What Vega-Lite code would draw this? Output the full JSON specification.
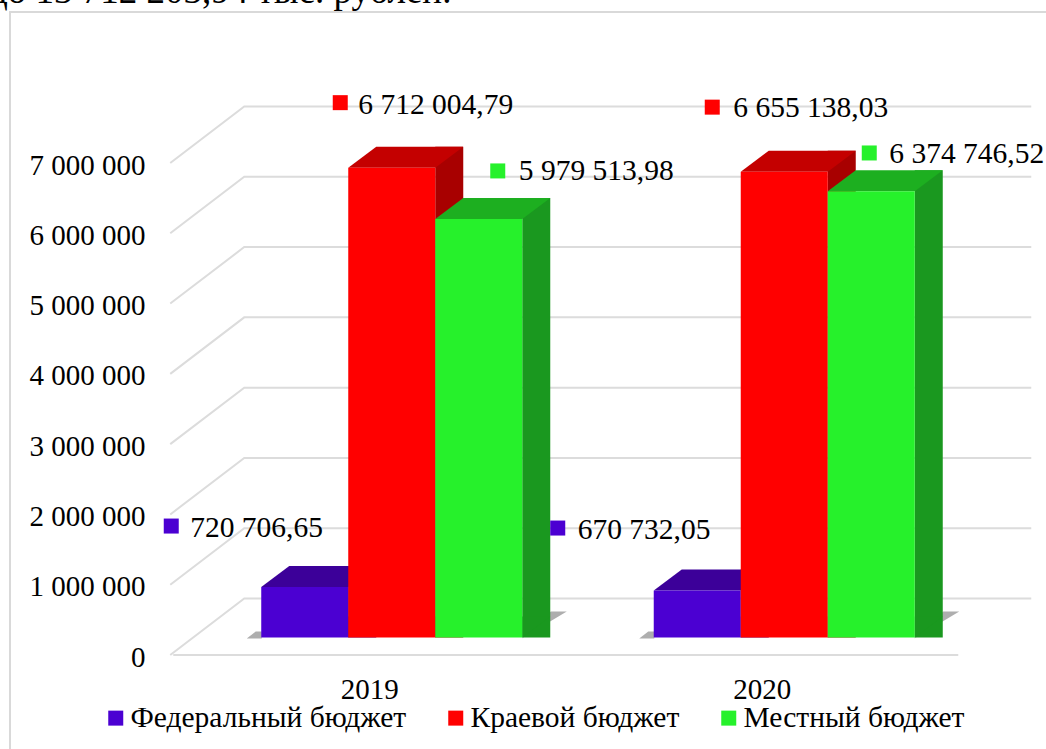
{"$schema":"https://vega.github.io/schema/vega-lite/v6.json","width":1100,"height":760,"autosize":{"type":"none"},"padding":{"left":10,"top":12,"right":0,"bottom":0},"background":"white","view":{"stroke":"#d9d9d9","strokeWidth":2,"fill":"white"},"title":{"text":"до 13 712 203,94 тыс. рублей.","anchor":"start","frame":"group","orient":"top","offset":0,"dx":-21,"dy":28,"baseline":"alphabetic","font":"Liberation Serif","fontSize":37,"fontWeight":"normal","color":"#000"},"datasets":{"ticks":[{"v":0},{"v":1000000},{"v":2000000},{"v":3000000},{"v":4000000},{"v":5000000},{"v":6000000},{"v":7000000}],"bars":[{"year":"2019","series":"Федеральный бюджет","value":720706.65,"label":"720 706,65"},{"year":"2019","series":"Краевой бюджет","value":6712004.79,"label":"6 712 004,79"},{"year":"2019","series":"Местный бюджет","value":5979513.98,"label":"5 979 513,98"},{"year":"2020","series":"Федеральный бюджет","value":670732.05,"label":"670 732,05"},{"year":"2020","series":"Краевой бюджет","value":6655138.03,"label":"6 655 138,03"},{"year":"2020","series":"Местный бюджет","value":6374746.52,"label":"6 374 746,52"}]},"resolve":{"scale":{"x":"independent","y":"independent","color":"independent","xOffset":"independent"},"axis":{"x":"independent","y":"independent"}},"layer":[
{"data":{"name":"ticks"},"mark":{"type":"point","shape":"M-199,0 L-125,-56.5 L662,-56.5","size":4,"filled":false,"fill":"transparent","stroke":"#dcdcdc","strokeWidth":2,"opacity":1},"encoding":{"x":{"datum":"2019","type":"nominal","scale":{"domain":["2019","2020"],"range":[163,948],"paddingInner":0.335,"paddingOuter":0.1675},"axis":{"title":null,"domain":false,"ticks":false,"grid":false,"labelAngle":0,"labelPadding":0,"offset":-97,"labelFont":"Liberation Serif","labelFontSize":29,"labelColor":"#000","labelBaseline":"top"}},"y":{"field":"v","type":"quantitative","scale":{"domain":[0,7000000],"range":[643,151]},"axis":{"title":null,"domain":false,"ticks":false,"grid":false,"values":[0,1000000,2000000,3000000,4000000,5000000,6000000,7000000],"labelExpr":"replace(replace(format(datum.value,','),',',' '),',',' ')","labelPadding":0,"labelOffset":2,"offset":-135,"labelFont":"Liberation Serif","labelFontSize":29,"labelColor":"#000","labelOverlap":false,"labelBound":false,"labelFlush":false}}}},
{"data":{"name":"ticks"},"transform":[{"filter":"datum.v === 0"}],"mark":{"type":"point","shape":"M-196,0 L589,0","size":4,"filled":false,"fill":"transparent","stroke":"#dcdcdc","strokeWidth":2,"opacity":1},"encoding":{"x":{"datum":"2019","type":"nominal","scale":{"domain":["2019","2020"],"range":[163,948],"paddingInner":0.335,"paddingOuter":0.1675},"axis":null},"y":{"field":"v","type":"quantitative","scale":{"domain":[0,7000000],"range":[643,151]},"axis":null}}},
{"data":{"name":"bars"},"transform":[{"filter":"datum.series === 'Федеральный бюджет'"}],"mark":{"type":"point","shape":"M-145,1 L-136,-6 L-130,-6 L-130,1 Z M130,1 L159,-26 L175,-26 Z","size":4,"filled":true,"fill":"#9a9a9a","strokeWidth":0,"opacity":0.8},"encoding":{"x":{"field":"year","type":"nominal","scale":{"domain":["2019","2020"],"range":[185.5,970.5],"paddingInner":0.335,"paddingOuter":0.1675},"axis":null},"y":{"datum":0,"type":"quantitative","scale":{"domain":[0,7000000],"range":[625.5,135.5]},"axis":null}}},
{"data":{"name":"bars"},"mark":{"type":"bar","width":28,"yOffset":-21,"y2Offset":-21},"encoding":{"x":{"field":"year","type":"nominal","scale":{"domain":["2019","2020"],"range":[243,1028],"paddingInner":0.335,"paddingOuter":0.1675},"axis":null},"xOffset":{"field":"series","scale":{"domain":["Федеральный бюджет","Краевой бюджет","Местный бюджет"]}},"y":{"field":"value","type":"quantitative","stack":false,"scale":{"domain":[0,7000000],"range":[625.5,135.5]},"axis":null},"color":{"field":"series","scale":{"domain":["Федеральный бюджет","Краевой бюджет","Местный бюджет"],"range":["#3a0a8c","#a80000","#1a981f"]},"legend":null}}},
{"data":{"name":"bars"},"mark":{"type":"point","shape":"M43.5,0 L71.5,-21 L43.5,-21 Z","size":4,"filled":true,"strokeWidth":0,"opacity":1},"encoding":{"x":{"field":"year","type":"nominal","scale":{"domain":["2019","2020"],"range":[185.5,970.5],"paddingInner":0.335,"paddingOuter":0.1675},"axis":null},"xOffset":{"field":"series","scale":{"domain":["Федеральный бюджет","Краевой бюджет","Местный бюджет"]}},"y":{"datum":0,"type":"quantitative","scale":{"domain":[0,7000000],"range":[625.5,135.5]},"axis":null},"color":{"field":"series","scale":{"domain":["Федеральный бюджет","Краевой бюджет","Местный бюджет"],"range":["#3a0a8c","#a80000","#1a981f"]},"legend":null}}},
{"data":{"name":"bars"},"mark":{"type":"point","shape":"M-43.5,0 L-15.5,-21 L71.5,-21 L43.5,0 Z","size":4,"filled":true,"strokeWidth":0,"opacity":1},"encoding":{"x":{"field":"year","type":"nominal","scale":{"domain":["2019","2020"],"range":[185.5,970.5],"paddingInner":0.335,"paddingOuter":0.1675},"axis":null},"xOffset":{"field":"series","scale":{"domain":["Федеральный бюджет","Краевой бюджет","Местный бюджет"]}},"y":{"field":"value","type":"quantitative","scale":{"domain":[0,7000000],"range":[625.5,135.5]},"axis":null},"color":{"field":"series","scale":{"domain":["Федеральный бюджет","Краевой бюджет","Местный бюджет"],"range":["#3c0099","#c40000","#1daf20"]},"legend":null}}},
{"data":{"name":"bars"},"mark":{"type":"bar"},"encoding":{"x":{"field":"year","type":"nominal","scale":{"domain":["2019","2020"],"range":[185.5,970.5],"paddingInner":0.335,"paddingOuter":0.1675},"axis":null},"xOffset":{"field":"series","scale":{"domain":["Федеральный бюджет","Краевой бюджет","Местный бюджет"]}},"y":{"field":"value","type":"quantitative","stack":false,"scale":{"domain":[0,7000000],"range":[625.5,135.5]},"axis":null},"color":{"field":"series","scale":{"domain":["Федеральный бюджет","Краевой бюджет","Местный бюджет"],"range":["#4b00d2","#ff0000","#26f12b"]},"legend":{"title":null,"orient":"none","legendX":91,"legendY":691,"direction":"horizontal","symbolType":"square","symbolSize":225,"symbolStrokeWidth":0,"columnPadding":34,"labelOffset":0,"labelFont":"Liberation Serif","labelFontSize":29.5,"labelColor":"#000","labelLimit":500}}}},
{"data":{"name":"bars"},"transform":[{"filter":"datum.year === '2019' && datum.series === 'Федеральный бюджет'"}],"layer":[{"mark":{"type":"point","shape":"M-141,-68.5 h15 v15 h-15 Z","size":4,"filled":true,"fill":"#4b00d2","strokeWidth":0,"opacity":1}},{"mark":{"type":"text","align":"left","baseline":"middle","dx":-114.5,"dy":-59,"font":"Liberation Serif","fontSize":29.5,"color":"#000"},"encoding":{"text":{"field":"label"}}}],"encoding":{"x":{"field":"year","type":"nominal","scale":{"domain":["2019","2020"],"range":[185.5,970.5],"paddingInner":0.335,"paddingOuter":0.1675},"axis":null},"xOffset":{"field":"series","scale":{"domain":["Федеральный бюджет","Краевой бюджет","Местный бюджет"]}},"y":{"field":"value","type":"quantitative","scale":{"domain":[0,7000000],"range":[625.5,135.5]},"axis":null}}},
{"data":{"name":"bars"},"transform":[{"filter":"datum.year === '2019' && datum.series === 'Краевой бюджет'"}],"layer":[{"mark":{"type":"point","shape":"M-59,-72.5 h15 v15 h-15 Z","size":4,"filled":true,"fill":"#ff0000","strokeWidth":0,"opacity":1}},{"mark":{"type":"text","align":"left","baseline":"middle","dx":-33.5,"dy":-62.7,"font":"Liberation Serif","fontSize":29.5,"color":"#000"},"encoding":{"text":{"field":"label"}}}],"encoding":{"x":{"field":"year","type":"nominal","scale":{"domain":["2019","2020"],"range":[185.5,970.5],"paddingInner":0.335,"paddingOuter":0.1675},"axis":null},"xOffset":{"field":"series","scale":{"domain":["Федеральный бюджет","Краевой бюджет","Местный бюджет"]}},"y":{"field":"value","type":"quantitative","scale":{"domain":[0,7000000],"range":[625.5,135.5]},"axis":null}}},
{"data":{"name":"bars"},"transform":[{"filter":"datum.year === '2019' && datum.series === 'Местный бюджет'"}],"layer":[{"mark":{"type":"point","shape":"M11.5,-55.5 h15 v15 h-15 Z","size":4,"filled":true,"fill":"#26f12b","strokeWidth":0,"opacity":1}},{"mark":{"type":"text","align":"left","baseline":"middle","dx":40,"dy":-48,"font":"Liberation Serif","fontSize":29.5,"color":"#000"},"encoding":{"text":{"field":"label"}}}],"encoding":{"x":{"field":"year","type":"nominal","scale":{"domain":["2019","2020"],"range":[185.5,970.5],"paddingInner":0.335,"paddingOuter":0.1675},"axis":null},"xOffset":{"field":"series","scale":{"domain":["Федеральный бюджет","Краевой бюджет","Местный бюджет"]}},"y":{"field":"value","type":"quantitative","scale":{"domain":[0,7000000],"range":[625.5,135.5]},"axis":null}}},
{"data":{"name":"bars"},"transform":[{"filter":"datum.year === '2020' && datum.series === 'Федеральный бюджет'"}],"layer":[{"mark":{"type":"point","shape":"M-147,-70 h15 v15 h-15 Z","size":4,"filled":true,"fill":"#4b00d2","strokeWidth":0,"opacity":1}},{"mark":{"type":"text","align":"left","baseline":"middle","dx":-119.5,"dy":-60.5,"font":"Liberation Serif","fontSize":29.5,"color":"#000"},"encoding":{"text":{"field":"label"}}}],"encoding":{"x":{"field":"year","type":"nominal","scale":{"domain":["2019","2020"],"range":[185.5,970.5],"paddingInner":0.335,"paddingOuter":0.1675},"axis":null},"xOffset":{"field":"series","scale":{"domain":["Федеральный бюджет","Краевой бюджет","Местный бюджет"]}},"y":{"field":"value","type":"quantitative","scale":{"domain":[0,7000000],"range":[625.5,135.5]},"axis":null}}},
{"data":{"name":"bars"},"transform":[{"filter":"datum.year === '2020' && datum.series === 'Краевой бюджет'"}],"layer":[{"mark":{"type":"point","shape":"M-79.5,-72 h15 v15 h-15 Z","size":4,"filled":true,"fill":"#ff0000","strokeWidth":0,"opacity":1}},{"mark":{"type":"text","align":"left","baseline":"middle","dx":-51,"dy":-63.6,"font":"Liberation Serif","fontSize":29.5,"color":"#000"},"encoding":{"text":{"field":"label"}}}],"encoding":{"x":{"field":"year","type":"nominal","scale":{"domain":["2019","2020"],"range":[185.5,970.5],"paddingInner":0.335,"paddingOuter":0.1675},"axis":null},"xOffset":{"field":"series","scale":{"domain":["Федеральный бюджет","Краевой бюджет","Местный бюджет"]}},"y":{"field":"value","type":"quantitative","scale":{"domain":[0,7000000],"range":[625.5,135.5]},"axis":null}}},
{"data":{"name":"bars"},"transform":[{"filter":"datum.year === '2020' && datum.series === 'Местный бюджет'"}],"layer":[{"mark":{"type":"point","shape":"M-9.5,-45.8 h15 v15 h-15 Z","size":4,"filled":true,"fill":"#26f12b","strokeWidth":0,"opacity":1}},{"mark":{"type":"text","align":"left","baseline":"middle","dx":18,"dy":-37.3,"font":"Liberation Serif","fontSize":29.5,"color":"#000"},"encoding":{"text":{"field":"label"}}}],"encoding":{"x":{"field":"year","type":"nominal","scale":{"domain":["2019","2020"],"range":[185.5,970.5],"paddingInner":0.335,"paddingOuter":0.1675},"axis":null},"xOffset":{"field":"series","scale":{"domain":["Федеральный бюджет","Краевой бюджет","Местный бюджет"]}},"y":{"field":"value","type":"quantitative","scale":{"domain":[0,7000000],"range":[625.5,135.5]},"axis":null}}}
]}
